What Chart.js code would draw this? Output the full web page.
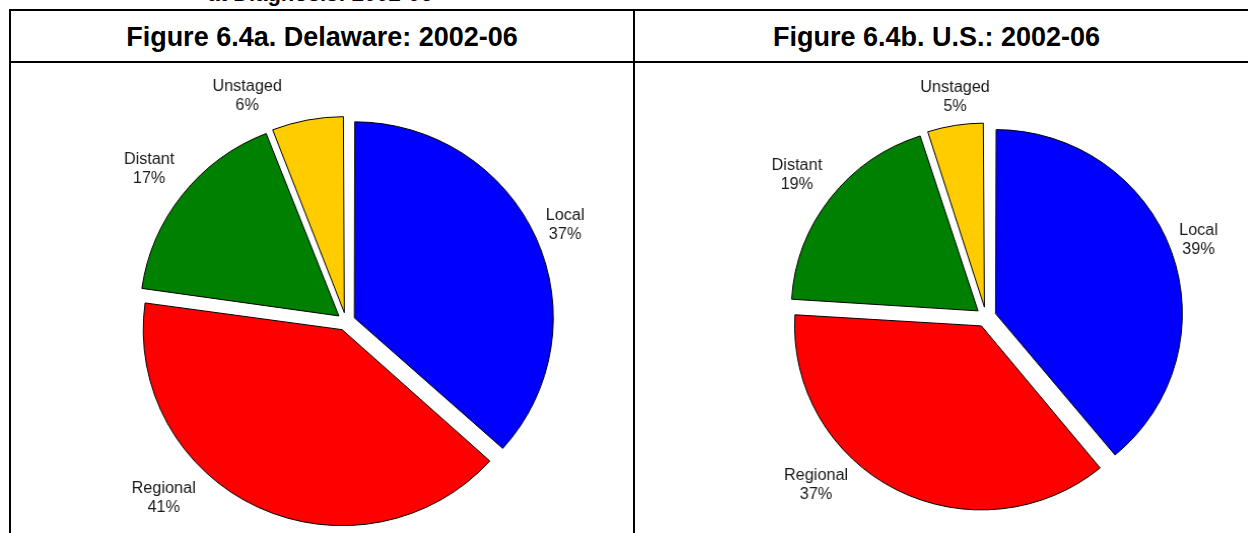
<!DOCTYPE html>
<html><head><meta charset="utf-8">
<script src="https://cdn.jsdelivr.net/npm/chart.js@4"></script>
<style>
html,body{margin:0;padding:0;background:#fff;overflow:hidden;width:1248px;height:533px;position:relative;font-family:"Liberation Sans",Arial,sans-serif;}
.line{position:absolute;background:#000;}
.hdr{position:absolute;font-weight:bold;font-size:27px;line-height:30px;height:30px;text-align:center;color:#000;white-space:nowrap;}
.wrap{position:absolute;}
canvas{display:block;}
</style></head><body>
<div class="hdr" style="left:0;width:640px;top:-16.6px;font-size:22px;line-height:22px;height:22px;">at Diagnosis: 2002-06</div>
<div class="line" style="left:9px;top:9px;width:1239px;height:2px;"></div>
<div class="line" style="left:9px;top:61px;width:1239px;height:2px;"></div>
<div class="line" style="left:9px;top:9px;width:2px;height:524px;"></div>
<div class="line" style="left:633px;top:9px;width:2px;height:524px;"></div>
<div class="hdr" id="h1" style="left:11px;width:622px;top:22px;"></div>
<div class="hdr" id="h2" style="left:635px;width:603px;top:22px;"></div>
<div class="wrap" style="left:26px;top:0px;width:640px;height:643px;transform:scaleX(1.015);transform-origin:320px 50%;"><canvas id="c1" width="640" height="643"></canvas></div>
<div class="wrap" style="left:686px;top:0px;width:600px;height:634px;transform:scaleX(1.015);transform-origin:300px 50%;"><canvas id="c2" width="600" height="634"></canvas></div>
<script>
const categories = ['Local', 'Regional', 'Distant', 'Unstaged'];
const delawareValues = [37, 41, 17, 6];
const usValues = [39, 37, 19, 5];
const chartTitles = ['Figure 6.4a. Delaware: 2002-06', 'Figure 6.4b. U.S.: 2002-06'];

document.getElementById('h1').textContent = chartTitles[0];
document.getElementById('h2').textContent = chartTitles[1];

const sliceColors = ['#0000FF', '#FF0000', '#008000', '#FFCC00'];

// keep all exploded slices at the same radius (Chart.js enlarges small exploded slices)
const equalRadius = {
  id: 'equalRadius',
  beforeDatasetsDraw(chart) {
    const meta = chart.getDatasetMeta(0);
    const baseR = meta.controller.outerRadius;
    const off = chart.data.datasets[0].offset / 4;
    meta.data.forEach(arc => {
      const fix = 1 - Math.sin(Math.min(Math.PI, arc.circumference || 0));
      arc.outerRadius = baseR - off * fix;
    });
  }
};

const outLabels = {
  id: 'outLabels',
  afterDatasetsDraw(chart, args, opts) {
    const ctx = chart.ctx;
    const meta = chart.getDatasetMeta(0);
    const baseR = meta.controller.outerRadius;
    const vals = chart.data.datasets[0].data;
    ctx.save();
    ctx.font = opts.font;
    ctx.fillStyle = opts.color;
    ctx.textAlign = 'center';
    ctx.textBaseline = 'middle';
    meta.data.forEach((arc, i) => {
      const p = arc.getProps(['x', 'y', 'startAngle', 'endAngle'], true);
      const mid = (p.startAngle + p.endAngle) / 2 + opts.angleShift[i] * Math.PI / 180;
      const d = baseR + opts.gap[i];
      const cx = p.x + Math.cos(mid) * d;
      const cy = p.y + Math.sin(mid) * d;
      ctx.fillText(chart.data.labels[i], cx, cy - opts.lineHeight / 2);
      ctx.fillText(vals[i] + '%', cx, cy + opts.lineHeight / 2);
    });
    ctx.restore();
  }
};

function makePie(id, values, radius, explode, angleShift, gap) {
  return new Chart(document.getElementById(id), {
    type: 'pie',
    data: {
      labels: categories,
      datasets: [{
        data: values,
        backgroundColor: sliceColors,
        borderColor: '#000',
        borderWidth: 1,
        offset: explode * 4,
        hoverOffset: 0
      }]
    },
    options: {
      responsive: false,
      animation: false,
      radius: radius,
      layout: { padding: 0 },
      events: [],
      plugins: {
        legend: { display: false },
        tooltip: { enabled: false },
        outLabels: {
          font: '16px "Liberation Sans", Arial, sans-serif',
          color: '#1a1a1a',
          lineHeight: 19,
          angleShift: angleShift,
          gap: gap
        }
      }
    },
    plugins: [equalRadius, outLabels]
  });
}

makePie('c1', delawareValues, 196, 9, [0, 20.6, -0.2, -12.7], [40.4, 55.6, 50.5, 49.2]);
makePie('c2', usValues, 184, 10, [-0.4, 17.9, -0.5, 1.1], [39.1, 53.2, 50.2, 38.1]);
</script>
</body></html>
